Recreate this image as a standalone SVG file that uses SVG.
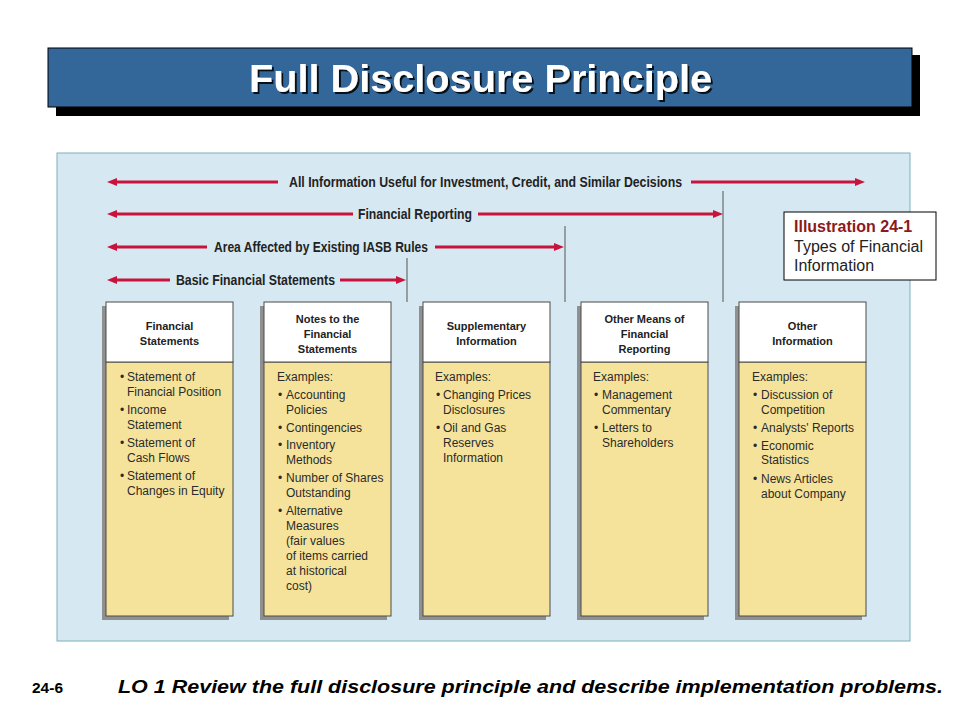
<svg xmlns="http://www.w3.org/2000/svg" width="960" height="720" viewBox="0 0 960 720">
<style>
.title{font-family:"Liberation Sans",Arial,sans-serif;font-weight:bold;font-size:39px}
.lbl{font-family:"Liberation Sans",Arial,sans-serif;font-weight:bold;font-size:15px;fill:#222}
.hd{font-family:"Liberation Sans",Arial,sans-serif;font-weight:bold;font-size:11px;fill:#222;text-anchor:middle}
.bd{font-family:"Liberation Sans",Arial,sans-serif;font-size:12px;fill:#2b2b2b}
.arr{stroke:#C8143C;stroke-width:3;fill:none}
.vl{stroke:#555;stroke-width:1}
.shadow{fill:#909090}
.head{fill:#fff;stroke:#4a4a4a;stroke-width:1}
.body{fill:#F6E39B;stroke:#4a4a4a;stroke-width:1}
.ill{font-family:"Liberation Sans",Arial,sans-serif;font-size:16px;fill:#222}
.foot{font-family:"Liberation Sans",Arial,sans-serif;font-weight:bold;fill:#000}
</style>
<defs>
<marker id="ah" viewBox="0 0 10 8" markerUnits="userSpaceOnUse" markerWidth="10" markerHeight="8" refX="4" refY="4" orient="auto">
<path d="M0,0 L10,4 L0,8 Z" fill="#C8143C"/>
</marker>
<filter id="ts" x="-5%" y="-20%" width="110%" height="140%">
<feDropShadow dx="2" dy="2" stdDeviation="0.6" flood-color="#000" flood-opacity="0.85"/>
</filter>
</defs>
<rect width="960" height="720" fill="#fff"/>
<g id="title">
<rect x="56" y="55" width="864" height="61" fill="#000"/>
<rect x="48" y="48" width="864" height="59" fill="#336699" stroke="#000" stroke-width="1"/>
<text class="title" x="249" y="92" fill="#fff" filter="url(#ts)" textLength="463" lengthAdjust="spacingAndGlyphs">Full Disclosure Principle</text>
</g>
<g id="panel">
<rect x="57" y="153" width="853" height="488" fill="#D6E8F2" stroke="#7FB0C0" stroke-width="1"/>
</g>
<g id="connectors">
<line class="arr" x1="278" y1="182" x2="113" y2="182" marker-end="url(#ah)"/>
<line class="arr" x1="691" y1="182" x2="859" y2="182" marker-end="url(#ah)"/>
<line class="arr" x1="353" y1="214" x2="113" y2="214" marker-end="url(#ah)"/>
<line class="arr" x1="478" y1="214" x2="717" y2="214" marker-end="url(#ah)"/>
<line class="arr" x1="207" y1="247" x2="113" y2="247" marker-end="url(#ah)"/>
<line class="arr" x1="435" y1="247" x2="558" y2="247" marker-end="url(#ah)"/>
<line class="arr" x1="170" y1="280" x2="113" y2="280" marker-end="url(#ah)"/>
<line class="arr" x1="340" y1="280" x2="400" y2="280" marker-end="url(#ah)"/>
<line class="vl" x1="407" y1="258" x2="407" y2="302"/>
<line class="vl" x1="565" y1="226" x2="565" y2="302"/>
<line class="vl" x1="723" y1="191" x2="723" y2="302"/>
<text class="lbl" x="289" y="187" textLength="393" lengthAdjust="spacingAndGlyphs">All Information Useful for Investment, Credit, and Similar Decisions</text>
<text class="lbl" x="358" y="219" textLength="114" lengthAdjust="spacingAndGlyphs">Financial Reporting</text>
<text class="lbl" x="214" y="252" textLength="214" lengthAdjust="spacingAndGlyphs">Area Affected by Existing IASB Rules</text>
<text class="lbl" x="176" y="285" textLength="159" lengthAdjust="spacingAndGlyphs">Basic Financial Statements</text>
</g>
<g id="illustration">
<rect x="784" y="212" width="152" height="68" fill="#fff" stroke="#000" stroke-width="1"/>
<text class="ill" x="794" y="232" font-weight="bold" style="fill:#8B1A1A">Illustration 24-1</text>
<text class="ill" x="794" y="252">Types of Financial</text>
<text class="ill" x="794" y="271">Information</text>
</g>
<g id="financial-statements">
<rect class="shadow" x="102" y="306" width="127" height="314"/>
<rect class="body" x="106" y="362" width="127" height="254"/>
<rect class="head" x="106" y="302" width="127" height="60"/>
<text class="hd" x="169.5" y="330">Financial</text>
<text class="hd" x="169.5" y="345">Statements</text>
<text class="bd" x="120" y="381">•</text><text class="bd" x="127" y="381">Statement of</text>
<text class="bd" x="127" y="396">Financial Position</text>
<text class="bd" x="120" y="414">•</text><text class="bd" x="127" y="414">Income</text>
<text class="bd" x="127" y="429">Statement</text>
<text class="bd" x="120" y="447">•</text><text class="bd" x="127" y="447">Statement of</text>
<text class="bd" x="127" y="462">Cash Flows</text>
<text class="bd" x="120" y="480">•</text><text class="bd" x="127" y="480">Statement of</text>
<text class="bd" x="127" y="495">Changes in Equity</text>
</g>
<g id="notes">
<rect class="shadow" x="260" y="306" width="127" height="314"/>
<rect class="body" x="264" y="362" width="127" height="254"/>
<rect class="head" x="264" y="302" width="127" height="60"/>
<text class="hd" x="327.5" y="323">Notes to the</text>
<text class="hd" x="327.5" y="338">Financial</text>
<text class="hd" x="327.5" y="353">Statements</text>
<text class="bd" x="277" y="381">Examples:</text>
<text class="bd" x="278" y="399">•</text><text class="bd" x="286" y="399">Accounting</text>
<text class="bd" x="286" y="414">Policies</text>
<text class="bd" x="278" y="432">•</text><text class="bd" x="286" y="432">Contingencies</text>
<text class="bd" x="278" y="449">•</text><text class="bd" x="286" y="449">Inventory</text>
<text class="bd" x="286" y="464">Methods</text>
<text class="bd" x="278" y="482">•</text><text class="bd" x="286" y="482">Number of Shares</text>
<text class="bd" x="286" y="497">Outstanding</text>
<text class="bd" x="278" y="515">•</text><text class="bd" x="286" y="515">Alternative</text>
<text class="bd" x="286" y="530">Measures</text>
<text class="bd" x="286" y="545">(fair values</text>
<text class="bd" x="286" y="560">of items carried</text>
<text class="bd" x="286" y="575">at historical</text>
<text class="bd" x="286" y="590">cost)</text>
</g>
<g id="supplementary">
<rect class="shadow" x="419" y="306" width="127" height="314"/>
<rect class="body" x="423" y="362" width="127" height="254"/>
<rect class="head" x="423" y="302" width="127" height="60"/>
<text class="hd" x="486.5" y="330">Supplementary</text>
<text class="hd" x="486.5" y="345">Information</text>
<text class="bd" x="435" y="381">Examples:</text>
<text class="bd" x="436" y="399">•</text><text class="bd" x="443" y="399">Changing Prices</text>
<text class="bd" x="443" y="414">Disclosures</text>
<text class="bd" x="436" y="432">•</text><text class="bd" x="443" y="432">Oil and Gas</text>
<text class="bd" x="443" y="447">Reserves</text>
<text class="bd" x="443" y="462">Information</text>
</g>
<g id="other-means">
<rect class="shadow" x="577" y="306" width="127" height="314"/>
<rect class="body" x="581" y="362" width="127" height="254"/>
<rect class="head" x="581" y="302" width="127" height="60"/>
<text class="hd" x="644.5" y="323">Other Means of</text>
<text class="hd" x="644.5" y="338">Financial</text>
<text class="hd" x="644.5" y="353">Reporting</text>
<text class="bd" x="593" y="381">Examples:</text>
<text class="bd" x="594" y="399">•</text><text class="bd" x="602" y="399">Management</text>
<text class="bd" x="602" y="414">Commentary</text>
<text class="bd" x="594" y="432">•</text><text class="bd" x="602" y="432">Letters to</text>
<text class="bd" x="602" y="447">Shareholders</text>
</g>
<g id="other-information">
<rect class="shadow" x="735" y="306" width="127" height="314"/>
<rect class="body" x="739" y="362" width="127" height="254"/>
<rect class="head" x="739" y="302" width="127" height="60"/>
<text class="hd" x="802.5" y="330">Other</text>
<text class="hd" x="802.5" y="345">Information</text>
<text class="bd" x="752" y="381">Examples:</text>
<text class="bd" x="753" y="399">•</text><text class="bd" x="761" y="399">Discussion of</text>
<text class="bd" x="761" y="414">Competition</text>
<text class="bd" x="753" y="432">•</text><text class="bd" x="761" y="432">Analysts' Reports</text>
<text class="bd" x="753" y="450">•</text><text class="bd" x="761" y="450">Economic</text>
<text class="bd" x="761" y="464">Statistics</text>
<text class="bd" x="753" y="483">•</text><text class="bd" x="761" y="483">News Articles</text>
<text class="bd" x="761" y="498">about Company</text>
</g>
<g id="footer">
<text class="foot" x="32" y="693" font-size="14" textLength="31" lengthAdjust="spacingAndGlyphs">24-6</text>
<text class="foot" x="118" y="693" font-size="18" font-style="italic" textLength="825" lengthAdjust="spacingAndGlyphs">LO 1  Review the full disclosure principle and describe implementation problems.</text>
</g>
</svg>
